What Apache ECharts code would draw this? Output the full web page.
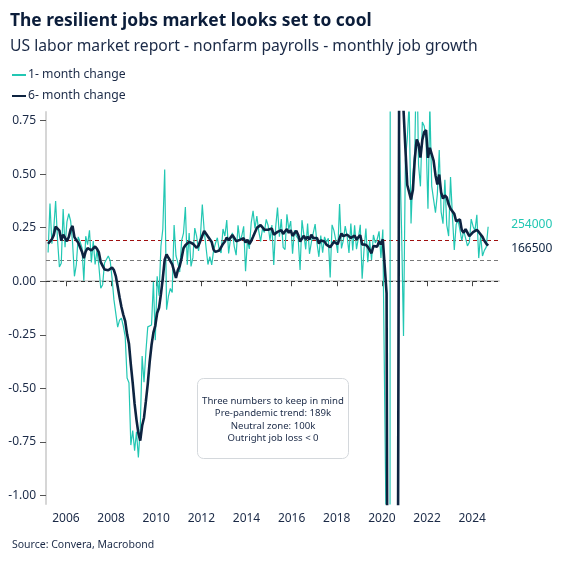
<!DOCTYPE html>
<html><head><meta charset="utf-8">
<script src="https://cdn.jsdelivr.net/npm/echarts@6/dist/echarts.min.js"></script>
<style>html,body{margin:0;padding:0;background:#fff}#c{width:562px;height:562px}</style>
</head><body><div id="c"></div>
<script>
// Monthly data, starting March 2005, values in millions of jobs
const startYear = 2005, startMonth = 3;
const oneMonth = [
  0.134, 0.363, 0.175, 0.245, 0.374, 0.195, 0.067, 0.084, 0.337, 0.159,
  0.277, 0.315, 0.280, 0.182, 0.023, 0.077, 0.207, 0.184, 0.157, 0.002, 0.210, 0.171,
  0.238, 0.088, 0.188, 0.078, 0.144, 0.071, -0.033, -0.016, 0.085, 0.082, 0.118, 0.097,
  0.015, -0.086, -0.080, -0.214, -0.182, -0.172, -0.210, -0.259, -0.452, -0.474, -0.765, -0.697,
  -0.791, -0.703, -0.823, -0.687, -0.349, -0.471, -0.329, -0.213, -0.220, -0.204, -0.002, -0.275,
  0.023, -0.068, 0.163, 0.243, 0.522, -0.133, -0.070, -0.034, -0.052, 0.262, 0.119, 0.087,
  0.043, 0.189, 0.225, 0.346, 0.077, 0.225, 0.069, 0.110, 0.248, 0.209, 0.141, 0.209,
  0.358, 0.237, 0.233, 0.078, 0.115, 0.076, 0.143, 0.177, 0.203, 0.146, 0.132, 0.244,
  0.211, 0.286, 0.130, 0.197, 0.226, 0.162, 0.122, 0.261, 0.190, 0.212, 0.256, 0.047,
  0.190, 0.151, 0.272, 0.329, 0.246, 0.304, 0.235, 0.186, 0.245, 0.228, 0.289, 0.260,
  0.190, 0.262, 0.076, 0.251, 0.344, 0.208, 0.290, 0.158, 0.148, 0.312, 0.242, 0.281,
  0.128, 0.238, 0.211, 0.198, 0.052, 0.285, 0.289, 0.149, 0.269, 0.128, 0.182, 0.190,
  0.267, 0.177, 0.114, 0.213, 0.133, 0.207, 0.182, 0.200, 0.018, 0.263, 0.236, 0.191,
  0.132, 0.360, 0.153, 0.191, 0.257, 0.212, 0.132, 0.269, 0.144, 0.261, 0.150, 0.201,
  0.263, 0.012, 0.147, 0.246, 0.089, 0.190, 0.099, 0.216, 0.179, 0.196, 0.233, 0.109,
  0.241, 0.242, -1.362, -20.494, 2.752, 4.596, 1.645, 1.690, 0.887, 0.605, 0.227, -0.256,
  0.567, 0.665, 0.833, 0.270, 0.501, 0.605, 1.118, 0.542, 0.443, 0.743, 0.725, 0.664,
  0.338, 0.824, 0.444, 0.381, 0.320, 0.407, 0.613, 0.324, 0.269, 0.474, 0.262, 0.211,
  0.487, 0.307, 0.146, 0.265, 0.284, 0.240, 0.189, 0.237, 0.246, 0.165, 0.182, 0.290,
  0.256, 0.236, 0.310, 0.108, 0.216, 0.118, 0.144, 0.159, 0.254
];
const sixMonth = [
  0.175, 0.178, 0.196, 0.215, 0.255, 0.248, 0.2365, 0.190, 0.217, 0.203,
  0.1865, 0.2065, 0.242, 0.258, 0.206, 0.192, 0.181, 0.159, 0.138, 0.108, 0.1395, 0.155,
  0.160, 0.144, 0.1495, 0.162, 0.151, 0.1345, 0.089, 0.072, 0.055, 0.0555, 0.051, 0.0555,
  0.0635, 0.052, 0.024, -0.025, -0.075, -0.120, -0.157, -0.186, -0.248, -0.2915, -0.389, -0.476,
  -0.573, -0.647, -0.709, -0.744, -0.675, -0.637, -0.560, -0.479, -0.378, -0.298, -0.240, -0.207,
  -0.1485, -0.124, -0.0605, 0.014, 0.101, 0.125, 0.1095, 0.115, 0.079, 0.0825, 0.0153, 0.052,
  0.071, 0.108, 0.154, 0.168, 0.161, 0.184, 0.1885, 0.175, 0.179, 0.156, 0.167, 0.164,
  0.2125, 0.234, 0.231, 0.209, 0.205, 0.183, 0.147, 0.137, 0.132, 0.143, 0.146, 0.174,
  0.1855, 0.204, 0.1915, 0.200, 0.216, 0.202, 0.187, 0.183, 0.193, 0.1955, 0.2005, 0.181,
  0.193, 0.174, 0.188, 0.2075, 0.206, 0.249, 0.256, 0.262, 0.2575, 0.241, 0.248, 0.2405,
  0.233, 0.2457, 0.2175, 0.221, 0.2305, 0.222, 0.2385, 0.221, 0.233, 0.243, 0.226, 0.2385,
  0.2115, 0.225, 0.235, 0.216, 0.185, 0.185, 0.212, 0.197, 0.207, 0.195, 0.217, 0.201,
  0.1975, 0.202, 0.176, 0.1905, 0.182, 0.185, 0.171, 0.175, 0.159, 0.167, 0.184, 0.182,
  0.173, 0.200, 0.2225, 0.2105, 0.214, 0.2175, 0.2175, 0.202, 0.201, 0.2125, 0.195, 0.193,
  0.215, 0.172, 0.172, 0.170, 0.160, 0.158, 0.1305, 0.1645, 0.170, 0.1615, 0.1855, 0.172,
  0.196, 0.200, -0.057, -3.505, -3.085, -2.3375, -2.1035, -1.862, -1.487, 2.029, 1.608, 0.800,
  0.620, 0.449, 0.440, 0.381, 0.427, 0.5705, 0.662, 0.642, 0.577, 0.659, 0.696, 0.706,
  0.576, 0.623, 0.623, 0.563, 0.495, 0.452, 0.498, 0.415, 0.386, 0.401, 0.3915, 0.359,
  0.338, 0.335, 0.3145, 0.280, 0.283, 0.288, 0.2385, 0.227, 0.2435, 0.227, 0.210, 0.218,
  0.229, 0.229, 0.240, 0.230, 0.236, 0.207, 0.1887, 0.176, 0.1665
];
const seriesNames = ['1- month change', '6- month change'];
const xTicks = [2006, 2008, 2010, 2012, 2014, 2016, 2018, 2020, 2022, 2024];
const yTicks = [-1.00, -0.75, -0.50, -0.25, 0.00, 0.25, 0.50, 0.75];
const refLines = [0.189, 0.1, 0];
const boxLines = ['Three numbers to keep in mind', 'Pre-pandemic trend: 189k', 'Neutral zone: 100k', 'Outright job loss < 0'];

const FONT = '"Noto Sans", "Open Sans", sans-serif';
const TEAL = '#22c7b3', NAVY = '#0d2340', TXT = '#1b2a47';

function monthPos(i) {
  const mi = startMonth - 1 + i;
  return startYear + Math.floor(mi / 12) + ((mi % 12) + 0.5) / 12;
}
const d1 = oneMonth.map((v, i) => [monthPos(i), v]);
const d6 = sixMonth.map((v, i) => [monthPos(i), v]);

const chart = echarts.init(document.getElementById('c'), null, { renderer: 'canvas' });
chart.setOption({
  animation: false,
  textStyle: { fontFamily: FONT },
  title: [
    { text: 'The resilient jobs market looks set to cool', left: 5, top: 8,
      textStyle: { fontFamily: FONT, fontSize: 17.4, fontWeight: 'bold', color: '#0b1d3a' } },
    { text: 'US labor market report - nonfarm payrolls - monthly job growth', left: 5, top: 34,
      textStyle: { fontFamily: FONT, fontSize: 15.7, fontWeight: 'normal', color: TXT } },
    { text: 'Source: Convera, Macrobond', left: 7, top: 535,
      textStyle: { fontFamily: FONT, fontSize: 10.5, fontWeight: 'normal', color: TXT } }
  ],
  legend: {
    orient: 'vertical', left: 6, top: 64, itemWidth: 14, itemHeight: 14, itemGap: 9,
    itemStyle: { opacity: 0 },
    textStyle: { fontFamily: FONT, fontSize: 12.2, color: TXT, padding: [0, 0, 0, -3] },
    data: seriesNames
  },
  grid: { left: 46, right: 63, top: 112, bottom: 58, containLabel: false },
  xAxis: {
    type: 'value', min: 2005.115, max: 2025.19,
    axisLine: { show: true, lineStyle: { color: '#d6d6d6', width: 2 } },
    axisTick: { show: true, length: 5, lineStyle: { color: '#444' }, customValues: xTicks },
    axisLabel: { customValues: xTicks, formatter: v => String(Math.round(v)), fontFamily: FONT, fontSize: 12, color: TXT, margin: 9 },
    splitLine: { show: false }
  },
  yAxis: {
    type: 'value', min: -1.04, max: 0.79,
    axisLine: { show: true, lineStyle: { color: '#d6d6d6', width: 2 } },
    axisTick: { show: true, length: 6, lineStyle: { color: '#555' }, customValues: yTicks },
    axisLabel: { customValues: yTicks, formatter: v => v.toFixed(2), fontFamily: FONT, fontSize: 12, color: TXT, margin: 10 },
    splitLine: { show: false }
  },
  series: [
    {
      name: seriesNames[0], type: 'line', data: d1, showSymbol: false, symbol: 'none',
      lineStyle: { color: TEAL, width: 1.2 }, itemStyle: { color: TEAL }, z: 3,
      endLabel: { show: true, formatter: p => String(Math.round(p.value[1] * 1e6)), color: TEAL,
        fontFamily: FONT, fontSize: 12, distance: 23, offset: [0, -2] },
      markLine: {
        silent: true, symbol: 'none', label: { show: false }, z: 1,
        data: [
          { yAxis: refLines[0], lineStyle: { color: '#a01010', type: [4, 3], width: 1 } },
          { yAxis: refLines[1], lineStyle: { color: '#7a7a7a', type: [4, 3], width: 1 } },
          { yAxis: refLines[2], lineStyle: { color: '#333', type: [4, 3], width: 1 } }
        ]
      }
    },
    {
      name: seriesNames[1], type: 'line', data: d6, showSymbol: false, symbol: 'none',
      lineStyle: { color: NAVY, width: 2.6 }, itemStyle: { color: NAVY }, z: 4,
      endLabel: { show: true, formatter: p => String(Math.round(p.value[1] * 1e6)), color: NAVY,
        fontFamily: FONT, fontSize: 12, distance: 23, offset: [0, 3] }
    }
  ],
  graphic: [
    {
      type: 'group', left: 197, top: 378,
      children: [
        { type: 'rect', shape: { x: 0, y: 0, width: 151, height: 80, r: 6 },
          style: { fill: '#fff', stroke: '#d4d8dc', lineWidth: 1 } },
        ...boxLines.map((t, i) => ({
          type: 'text', x: 75.5, y: 22.5 + i * 12.4,
          style: { text: t, fill: TXT, fontFamily: FONT, fontSize: 9.6, textAlign: 'center', textVerticalAlign: 'middle' }
        }))
      ]
    }
  ]
});
</script></body></html>
